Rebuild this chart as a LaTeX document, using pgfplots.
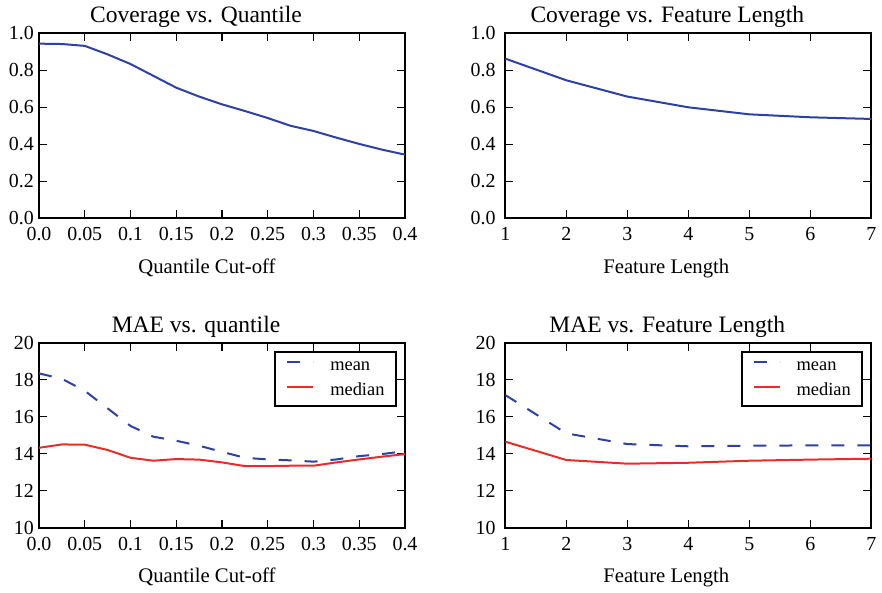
\documentclass[border=0pt]{standalone}
\usepackage{fontspec}
\setmainfont{Liberation Serif}
\usepackage{pgfplots}
\pgfplotsset{compat=1.18}

\definecolor{mplblue}{RGB}{45,65,165}
\definecolor{mplred}{RGB}{232,45,40}

\pgfplotsset{
  panel/.style={
    width=366bp, height=185bp, scale only axis, anchor=south west,
    axis line style={line width=2bp},
    tick align=inside, major tick length=8bp,
    every tick/.style={black, line width=1.2bp},
    /pgf/number format/assume math mode=true,
    tick label style={font=\fontsize{20}{22}\selectfont, inner sep=0pt},
    xticklabel style={anchor=base, yshift=-22.5bp},
    yticklabel style={anchor=east, xshift=-5bp},
    every axis title shift=0pt,
    title style={at={(axis description cs:0.5,1)}, anchor=base, yshift=10.5bp,
      font=\fontsize{23.6}{26}\selectfont},
    xlabel style={at={(axis description cs:0.5,0)}, anchor=base, yshift=-55bp,
      font=\fontsize{20.8}{23}\selectfont},
  },
  qaxis/.style={xmin=0, xmax=0.4,
    xtick={0,0.05,0.1,0.15,0.2,0.25,0.3,0.35,0.4},
    xticklabels={0.0,0.05,0.1,0.15,0.2,0.25,0.3,0.35,0.4},
    xlabel={Quantile Cut-off},
    title style={xshift=-26bp}, xlabel style={xshift=-15bp}},
  faxis/.style={xmin=1, xmax=7, xtick={1,2,3,4,5,6,7},
    xticklabels={1,2,3,4,5,6,7}, xlabel={Feature Length},
    yticklabel style={xshift=-4.5bp},
    title style={xshift=-21bp}, xlabel style={xshift=-22bp}},
  covaxis/.style={ymin=0, ymax=1, ytick={0,0.2,0.4,0.6,0.8,1},
    yticklabels={0.0,0.2,0.4,0.6,0.8,1.0}},
  maeaxis/.style={ymin=10, ymax=20, ytick={10,12,14,16,18,20},
    yticklabels={10,12,14,16,18,20},
    legend cell align=left,
    legend image code/.code={\draw[##1] (0bp,4.5bp) -- (26bp,4.5bp);},
    legend style={at={(axis description cs:1,1)}, anchor=north east,
      xshift=-8.5bp, yshift=-8.5bp, draw=black, line width=2bp,
      font=\fontsize{18.5}{20}\selectfont,
      inner xsep=11bp, inner ysep=6.5bp, row sep=9bp,
      nodes={inner sep=0pt, text height=12bp, text depth=4bp},
      /tikz/every odd column/.append style={column sep=16bp}}},
  covline/.style={mplblue, line width=2bp},
  meanline/.style={mplblue, line width=2bp, dash pattern=on 13bp off 13bp},
  medline/.style={mplred, line width=2bp},
}

\begin{document}
\begin{tikzpicture}
\useasboundingbox (0,0) rectangle (882bp,593bp);

\begin{axis}[panel, qaxis, covaxis, at={(39bp,374.7bp)},
  title={Coverage vs. Quantile}]
\addplot[covline] coordinates {
  (0,0.944) (0.025,0.942) (0.05,0.932) (0.075,0.886) (0.1,0.834)
  (0.125,0.770) (0.15,0.706) (0.175,0.658) (0.2,0.616) (0.225,0.580)
  (0.25,0.542) (0.275,0.500) (0.3,0.472) (0.325,0.436) (0.35,0.402)
  (0.375,0.371) (0.4,0.344)};
\end{axis}

\begin{axis}[panel, faxis, covaxis, at={(505.3bp,374.7bp)},
  title={Coverage vs. Feature Length}]
\addplot[covline] coordinates {
  (1,0.863) (2,0.746) (3,0.658) (4,0.600) (5,0.562) (6,0.546) (7,0.537)};
\end{axis}

\begin{axis}[panel, qaxis, maeaxis, at={(39bp,65.3bp)},
  title={MAE vs. quantile}]
\addplot[meanline] coordinates {
  (0,18.34) (0.025,18.05) (0.05,17.40) (0.075,16.45) (0.1,15.50)
  (0.125,14.92) (0.15,14.70) (0.175,14.43) (0.2,14.10) (0.225,13.78)
  (0.25,13.69) (0.275,13.64) (0.3,13.57) (0.325,13.69) (0.35,13.87)
  (0.375,13.98) (0.4,14.14)};
\addplot[medline] coordinates {
  (0,14.32) (0.025,14.50) (0.05,14.49) (0.075,14.20) (0.1,13.78)
  (0.125,13.62) (0.15,13.71) (0.175,13.68) (0.2,13.53) (0.225,13.33)
  (0.25,13.33) (0.275,13.35) (0.3,13.35) (0.325,13.53) (0.35,13.69)
  (0.375,13.84) (0.4,13.98)};
\legend{mean, median}
\end{axis}

\begin{axis}[panel, faxis, maeaxis, at={(505.3bp,65.3bp)},
  title={MAE vs. Feature Length}]
\addplot[meanline] coordinates {
  (1,17.17) (2,15.10) (3,14.52) (4,14.40) (5,14.43) (6,14.45) (7,14.45)};
\addplot[medline] coordinates {
  (1,14.65) (2,13.66) (3,13.46) (4,13.51) (5,13.62) (6,13.68) (7,13.73)};
\legend{mean, median}
\end{axis}
\end{tikzpicture}
\end{document}
